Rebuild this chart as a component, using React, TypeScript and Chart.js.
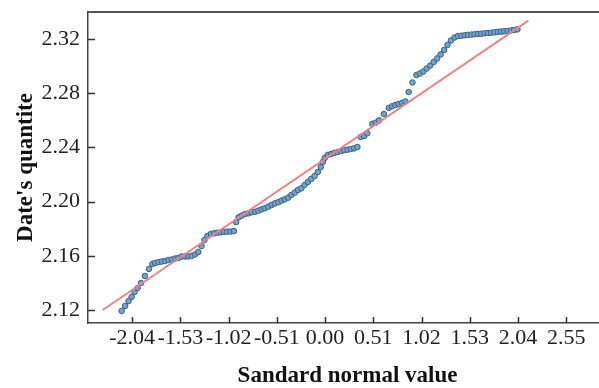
import React, { useEffect, useRef } from "react";
import { Chart, registerables } from "chart.js";

Chart.register(...registerables);

// Theoretical standard normal quantiles (x)
const quantileX = [
  -2.150, -2.113, -2.077, -2.045, -2.014, -1.982, -1.946, -1.904, -1.862, -1.825,
  -1.794, -1.759, -1.725, -1.689, -1.655, -1.620, -1.584, -1.550, -1.515, -1.480,
  -1.445, -1.411, -1.375, -1.340, -1.306, -1.275, -1.244, -1.207, -1.173, -1.138,
  -1.103, -1.068, -1.034, -0.998, -0.963, -0.940, -0.914, -0.880, -0.844, -0.809,
  -0.775, -0.739, -0.705, -0.670, -0.635, -0.600, -0.565, -0.530, -0.495, -0.461,
  -0.425, -0.391, -0.356, -0.320, -0.286, -0.251, -0.216, -0.181, -0.147, -0.111,
  -0.076, -0.045, -0.024, -0.003, 0.028, 0.063, 0.098, 0.133, 0.168, 0.203,
  0.238, 0.272, 0.308, 0.342, 0.377, 0.413, 0.447, 0.500, 0.534, 0.570,
  0.622, 0.674, 0.709, 0.744, 0.779, 0.814, 0.850, 0.884, 0.924, 0.966,
  1.002, 1.039, 1.075, 1.112, 1.149, 1.185, 1.222, 1.259, 1.295, 1.332,
  1.369, 1.405, 1.442, 1.477, 1.512, 1.547, 1.581, 1.617, 1.651, 1.686,
  1.722, 1.756, 1.791, 1.826, 1.861, 1.895, 1.931, 1.966, 2.000, 2.034,
];

// Sample quantiles (y)
const quantileY = [
  2.1193, 2.1230, 2.1266, 2.1296, 2.1333, 2.1362, 2.1399, 2.1451, 2.1503, 2.1539,
  2.1547, 2.1554, 2.1558, 2.1562, 2.1569, 2.1573, 2.1580, 2.1584, 2.1595, 2.1595,
  2.1595, 2.1599, 2.1610, 2.1628, 2.1672, 2.1717, 2.1746, 2.1761, 2.1766, 2.1770,
  2.1773, 2.1776, 2.1778, 2.1779, 2.1783, 2.1849, 2.1884, 2.1897, 2.1908, 2.1914,
  2.1921, 2.1925, 2.1933, 2.1943, 2.1951, 2.1962, 2.1975, 2.1987, 2.1995, 2.2007,
  2.2017, 2.2029, 2.2049, 2.2066, 2.2086, 2.2098, 2.2123, 2.2145, 2.2167, 2.2189,
  2.2218, 2.2255, 2.2292, 2.2322, 2.2344, 2.2351, 2.2359, 2.2366, 2.2373, 2.2379,
  2.2383, 2.2388, 2.2393, 2.2403, 2.2477, 2.2484, 2.2504, 2.2573, 2.2582, 2.2599,
  2.2646, 2.2691, 2.2703, 2.2713, 2.2720, 2.2728, 2.2739, 2.2809, 2.2879, 2.2934,
  2.2945, 2.2960, 2.2982, 2.3004, 2.3030, 2.3056, 2.3086, 2.3119, 2.3156, 2.3189,
  2.3211, 2.3222, 2.3224, 2.3227, 2.3230, 2.3232, 2.3235, 2.3237, 2.3239, 2.3242,
  2.3244, 2.3246, 2.3249, 2.3252, 2.3254, 2.3257, 2.3259, 2.3263, 2.3266, 2.3271,
];

// Reference line endpoints
const refLineX = [-2.35, 2.15];
const refLineY = [2.12, 2.3335];

const xTicks = [-2.04, -1.53, -1.02, -0.51, 0.0, 0.51, 1.02, 1.53, 2.04, 2.55];
const yTicks = [2.12, 2.16, 2.2, 2.24, 2.28, 2.32];

const xTitle = "Sandard normal value";
const yTitle = "Date's quantite";

const FONT = "'Liberation Serif', 'Times New Roman', serif";

const framePlugin = {
  id: "frameTicks",
  afterDraw(chart: any) {
    const { ctx, chartArea: a, scales } = chart;
    ctx.save();
    ctx.strokeStyle = "#555";
    ctx.lineWidth = 2;
    ctx.beginPath();
    ctx.moveTo(a.left, a.top);
    ctx.lineTo(a.right, a.top);
    ctx.lineTo(a.right, a.bottom);
    ctx.stroke();
    ctx.strokeStyle = "#333";
    ctx.lineWidth = 1.5;
    ctx.beginPath();
    scales.x.ticks.forEach((t: any) => {
      const px = Math.round(scales.x.getPixelForValue(t.value)) + 0.5;
      ctx.moveTo(px, a.bottom);
      ctx.lineTo(px, a.bottom - 6);
    });
    scales.y.ticks.forEach((t: any) => {
      const py = Math.round(scales.y.getPixelForValue(t.value)) + 0.5;
      ctx.moveTo(a.left, py);
      ctx.lineTo(a.left + 7, py);
    });
    ctx.stroke();
    ctx.restore();
  },
};

export default function App() {
  const ref = useRef<HTMLCanvasElement | null>(null);

  useEffect(() => {
    if (!ref.current) return;
    const points = quantileX.map((x, i) => ({ x, y: quantileY[i] }));
    const line = refLineX.map((x, i) => ({ x, y: refLineY[i] }));
    const chart = new Chart(ref.current, {
      type: "scatter",
      data: {
        datasets: [
          {
            type: "line",
            data: line,
            borderColor: "rgb(234,132,134)",
            borderWidth: 2,
            pointRadius: 0,
            order: 0,
          } as any,
          {
            data: points,
            backgroundColor: "rgb(112,162,206)",
            borderColor: "rgb(62,96,130)",
            borderWidth: 1,
            pointRadius: 2.8,
            order: 1,
          },
        ],
      },
      options: {
        responsive: false,
        animation: false,
        layout: { padding: { top: 12, left: 0, right: 0, bottom: 0 } },
        plugins: {
          legend: { display: false },
          tooltip: { enabled: false },
        },
        scales: {
          x: {
            type: "linear",
            min: -2.506,
            max: 2.981,
            grid: { display: false, drawTicks: false },
            border: { display: true, color: "#444", width: 1.5 },
            afterBuildTicks: (s: any) => {
              s.ticks = xTicks.map((v) => ({ value: v }));
            },
            afterFit: (s: any) => {
              s.height = 65;
              s.paddingLeft = 0;
              s.paddingRight = 0;
            },
            ticks: {
              padding: 2,
              color: "#222",
              font: { family: FONT, size: 22 },
              callback: (v: any) => Number(v).toFixed(2),
              maxRotation: 0,
              autoSkip: false,
            },
            title: {
              display: true,
              text: xTitle,
              color: "#111",
              font: { family: FONT, size: 23, weight: "bold" },
              padding: { top: 0, bottom: -2 },
            },
          },
          y: {
            type: "linear",
            min: 2.1104,
            max: 2.3399,
            grid: { display: false, drawTicks: false },
            border: { display: true, color: "#444", width: 1.5 },
            afterBuildTicks: (s: any) => {
              s.ticks = yTicks.map((v) => ({ value: v }));
            },
            afterFit: (s: any) => {
              s.width = 88;
              s.paddingTop = 0;
              s.paddingBottom = 0;
            },
            ticks: {
              padding: 8,
              color: "#222",
              font: { family: FONT, size: 22 },
              callback: (v: any) => Number(v).toFixed(2),
              autoSkip: false,
            },
            title: {
              display: true,
              text: yTitle,
              color: "#111",
              font: { family: FONT, size: 23, weight: "bold" },
              padding: { top: 12, bottom: 0 },
            },
          },
        },
      },
      plugins: [framePlugin],
    });
    return () => chart.destroy();
  }, []);

  return (
    <div
      style={{
        position: "fixed",
        left: 0,
        top: 0,
        width: 599,
        height: 388,
        overflow: "hidden",
        background: "#fff",
      }}
    >
      <canvas ref={ref} width={612} height={388} style={{ display: "block" }} />
    </div>
  );
}
